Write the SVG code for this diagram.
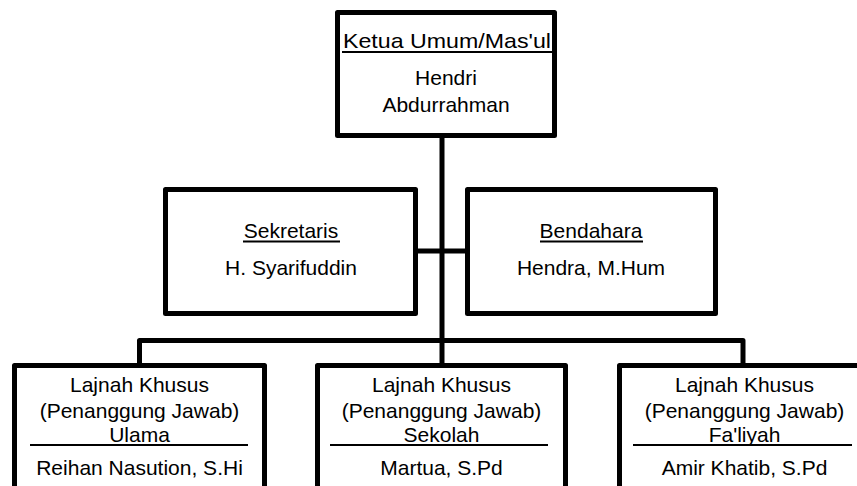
<svg xmlns="http://www.w3.org/2000/svg" width="857" height="486" viewBox="0 0 857 486">
<style>
.box{fill:#fff;stroke:#000;stroke-width:5;stroke-linejoin:round}
.con{fill:none;stroke:#000;stroke-width:5;stroke-linejoin:round}
.ul{stroke:#000;stroke-width:2}
text{font-family:"Liberation Sans",Arial,sans-serif;font-size:21px;fill:#000;text-anchor:middle}
</style>
<rect width="857" height="486" fill="#fff"/>
<g id="connectors">
<path class="con" d="M442 136 V340.5"/>
<path class="con" d="M416 251 H467"/>
<path class="con" d="M139.5 365 V340.5 H743 V365"/>
<path class="con" d="M442 340.5 V365"/>
</g>
<g id="ketua">
<rect class="box" x="337.5" y="12.5" width="217" height="123"/>
<text x="447" y="48" textLength="208" lengthAdjust="spacingAndGlyphs">Ketua Umum/Mas'ul</text>
<line class="ul" x1="342" y1="52" x2="552" y2="52"/>
<text x="446" y="85">Hendri</text>
<text x="446" y="112">Abdurrahman</text>
</g>
<g id="sekretaris">
<rect class="box" x="165.5" y="189.5" width="250" height="124"/>
<text x="291" y="238">Sekretaris</text>
<line class="ul" x1="243" y1="241.5" x2="340" y2="241.5"/>
<text x="291" y="275">H. Syarifuddin</text>
</g>
<g id="bendahara">
<rect class="box" x="467.5" y="189.5" width="248" height="124"/>
<text x="591" y="238">Bendahara</text>
<line class="ul" x1="540" y1="241.5" x2="643" y2="241.5"/>
<text x="591" y="275">Hendra, M.Hum</text>
</g>
<g id="ulama">
<rect class="box" x="14.5" y="365.5" width="250" height="140"/>
<text x="139.5" y="392">Lajnah Khusus</text>
<text x="139.5" y="418">(Penanggung Jawab)</text>
<text x="139.5" y="442">Ulama</text>
<line class="ul" x1="30" y1="445" x2="248" y2="445"/>
<text x="139.5" y="475">Reihan Nasution, S.Hi</text>
</g>
<g id="sekolah">
<rect class="box" x="317.5" y="365.5" width="248" height="140"/>
<text x="441.5" y="392">Lajnah Khusus</text>
<text x="441.5" y="418">(Penanggung Jawab)</text>
<text x="441.5" y="442">Sekolah</text>
<line class="ul" x1="330" y1="445" x2="548" y2="445"/>
<text x="441.5" y="475">Martua, S.Pd</text>
</g>
<g id="faliyah">
<rect class="box" x="619.5" y="365.5" width="250" height="140"/>
<text x="744.5" y="392">Lajnah Khusus</text>
<text x="744.5" y="418">(Penanggung Jawab)</text>
<text x="744.5" y="442">Fa'liyah</text>
<line class="ul" x1="633" y1="445" x2="852" y2="445"/>
<text x="744.5" y="475">Amir Khatib, S.Pd</text>
</g>
</svg>
